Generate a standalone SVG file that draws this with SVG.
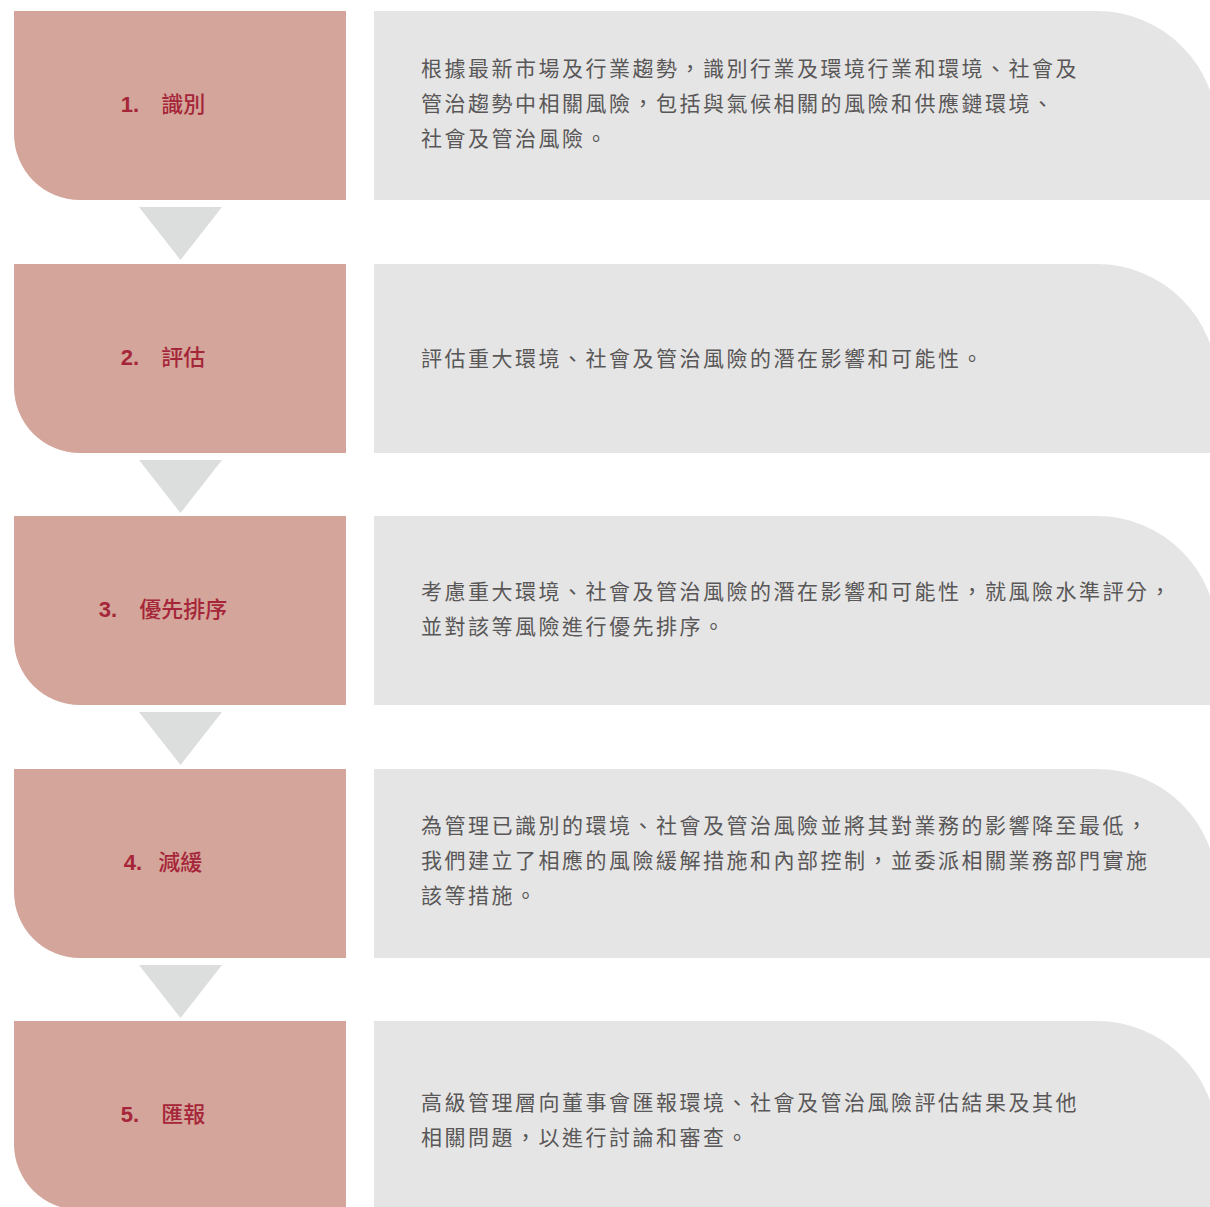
<svg xmlns="http://www.w3.org/2000/svg" width="1210" height="1207" viewBox="0 0 1210 1207">
<style>
.lbox{fill:#d4a59a}
.rbox{fill:#e5e5e5}
.tri{fill:#dcdddd}
.title{font-family:"Liberation Sans","Noto Sans CJK TC",sans-serif;font-size:22px;font-weight:bold;fill:#a62639;text-anchor:middle}
.title tspan{font-family:"Noto Sans CJK TC","Noto Sans CJK SC",sans-serif;font-size:22px;font-weight:500}
.body{font-family:"Noto Sans CJK TC","Noto Sans CJK SC",sans-serif;font-size:21px;fill:#595757;letter-spacing:2.5px}
</style>
<defs>
<path id="L" d="M14 0 H346 V189 H80 A66 66 0 0 1 14 123 Z"/>
<path id="R" d="M374 0 H1097 A120 120 0 0 1 1217 120 V189 H374 Z"/>
</defs>
<g id="connectors">
<polygon class="tri" points="139,207 222,207 180.5,260"/>
<polygon class="tri" points="139,460 222,460 180.5,513"/>
<polygon class="tri" points="139,712 222,712 180.5,765"/>
<polygon class="tri" points="139,965 222,965 180.5,1018"/>
</g>
<g id="step1">
<use href="#L" class="lbox" y="11"/>
<text class="title" x="163" y="112">1.<tspan dx="22">識別</tspan></text>
</g>
<g id="desc1">
<use href="#R" class="rbox" y="11"/>
<text class="body" x="421" y="76">根據最新市場及行業趨勢，識別行業及環境行業和環境、社會及</text>
<text class="body" x="421" y="111">管治趨勢中相關風險，包括與氣候相關的風險和供應鏈環境、</text>
<text class="body" x="421" y="146">社會及管治風險。</text>
</g>
<g id="step2">
<use href="#L" class="lbox" y="264"/>
<text class="title" x="163" y="365">2.<tspan dx="22">評估</tspan></text>
</g>
<g id="desc2">
<use href="#R" class="rbox" y="264"/>
<text class="body" x="421" y="366">評估重大環境、社會及管治風險的潛在影響和可能性。</text>
</g>
<g id="step3">
<use href="#L" class="lbox" y="516"/>
<text class="title" x="163" y="617">3.<tspan dx="22">優先排序</tspan></text>
</g>
<g id="desc3">
<use href="#R" class="rbox" y="516"/>
<text class="body" x="421" y="599">考慮重大環境、社會及管治風險的潛在影響和可能性，就風險水準評分，</text>
<text class="body" x="421" y="634">並對該等風險進行優先排序。</text>
</g>
<g id="step4">
<use href="#L" class="lbox" y="769"/>
<text class="title" x="163" y="870">4.<tspan dx="16">減緩</tspan></text>
</g>
<g id="desc4">
<use href="#R" class="rbox" y="769"/>
<text class="body" x="421" y="833">為管理已識別的環境、社會及管治風險並將其對業務的影響降至最低，</text>
<text class="body" x="421" y="868">我們建立了相應的風險緩解措施和內部控制，並委派相關業務部門實施</text>
<text class="body" x="421" y="903">該等措施。</text>
</g>
<g id="step5">
<use href="#L" class="lbox" y="1021"/>
<text class="title" x="163" y="1122">5.<tspan dx="22">匯報</tspan></text>
</g>
<g id="desc5">
<use href="#R" class="rbox" y="1021"/>
<text class="body" x="421" y="1110">高級管理層向董事會匯報環境、社會及管治風險評估結果及其他</text>
<text class="body" x="421" y="1145">相關問題，以進行討論和審查。</text>
</g>
</svg>
